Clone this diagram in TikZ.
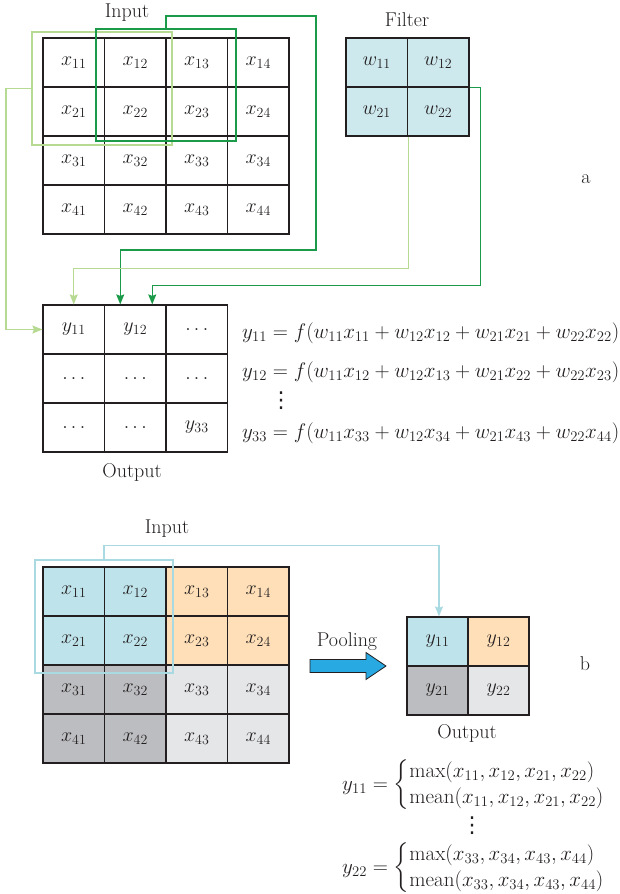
\RequirePackage{fix-cm}
\documentclass[tikz,border=0pt]{standalone}
\usepackage{amsmath}
\usepackage{fontspec}
\usepackage{tikz}
\usetikzlibrary{arrows.meta}

\newfontfamily\dotsfont{DejaVu Sans}

\definecolor{gridline}{HTML}{231F20}
\definecolor{lgreen}{HTML}{B7DA93}
\definecolor{dgreen}{HTML}{1B9B4A}
\definecolor{filterfill}{HTML}{CDE9EE}
\definecolor{pool0}{HTML}{BFE3EA}
\definecolor{pool1}{HTML}{FEDFB8}
\definecolor{pool2}{HTML}{BCBDC0}
\definecolor{pool3}{HTML}{E5E6E8}
\definecolor{winblue}{HTML}{A9D9E1}
\definecolor{poolarrow}{HTML}{29A9E1}

\newcommand{\tallvdots}{{\dotsfont\fontsize{22}{24}\selectfont ⋮}}
\newcommand{\pooleq}[2]{{\renewcommand{\arraystretch}{1.04}%
$#1=\left\{\begin{array}{@{}l@{}}\max(#2)\\ \operatorname{mean}(#2)\end{array}\right.$}}

\tikzset{
  every node/.style={font=\fontsize{20}{24}\selectfont, text=gridline},
  cell/.style={draw=gridline, line width=1.2pt, minimum width=61.5pt, minimum height=49pt, inner sep=0pt},
  lbl/.style={anchor=base, inner sep=0pt},
  eq/.style={anchor=west, inner sep=0pt, font=\fontsize{21}{25}\selectfont},
  tip/.style={-{Stealth[length=10pt,width=8pt,inset=1.5pt]}},
  lgline/.style={draw=lgreen, line width=1.2pt},
  dgline/.style={draw=dgreen, line width=1.2pt},
}

\begin{document}
\begin{tikzpicture}[x=1pt,y=-1pt]
\useasboundingbox (0,0) rectangle (620,894);

\foreach \r in {1,...,4}
  \foreach \c in {1,...,4}
    \node[cell] (in\r\c) at ({43+61.5*(\c-0.5)},{38+49*(\r-0.5)}) {$x_{\r\c}$};

\foreach \r in {1,2}
  \foreach \c in {1,2}
    \node[cell, fill=filterfill] (w\r\c) at ({346+61.5*(\c-0.5)},{38+49*(\r-0.5)}) {$w_{\r\c}$};

\node[cell] (y11) at (73.75,329.5) {$y_{11}$};
\node[cell] (y12) at (135.25,329.5) {$y_{12}$};
\node[cell] (y13) at (196.75,329.5) {$\ldots$};
\node[cell] (y21) at (73.75,378.5) {$\ldots$};
\node[cell] (y22) at (135.25,378.5) {$\ldots$};
\node[cell] (y23) at (196.75,378.5) {$\ldots$};
\node[cell] (y31) at (73.75,427.5) {$\ldots$};
\node[cell] (y32) at (135.25,427.5) {$\ldots$};
\node[cell] (y33) at (196.75,427.5) {$y_{33}$};

\node[draw=lgreen, line width=2.2pt, minimum width=140pt, minimum height=113pt] (winA) at (102,88.5) {};
\node[draw=dgreen, line width=2.2pt, minimum width=140pt, minimum height=112pt] (winB) at (166,85) {};

\draw[lgline, tip] (winA.west) -- ++(-25,0) |- (y11.west);
\draw[dgline, tip] (winB.north) -- ++(0,-12) -- ++(150,0) -- ++(0,234) -| ([xshift=-15pt]y12.north);
\draw[lgline, tip] (w21.south east) -- ++(0,132) -| (y11.north);
\draw[dgline, tip] (w12.south east) -- ++(11,0) -- ++(0,198) -| ([xshift=17pt]y12.north);

\node[lbl] (inA) at (127,17) {Input};
\node[lbl] (flt) at (407,27) {Filter};
\node[lbl] (outA) at (132,477) {Output};
\node[lbl] (la) at (586,183) {a};

\node[eq] (eq1) at (242,333) {$y_{11}=f(w_{11}x_{11}+w_{12}x_{12}+w_{21}x_{21}+w_{22}x_{22})$};
\node[eq] (eq2) at (242,372) {$y_{12}=f(w_{11}x_{12}+w_{12}x_{13}+w_{21}x_{22}+w_{22}x_{23})$};
\node[inner sep=0pt] (eqdots) at (281,401) {\tallvdots};
\node[eq] (eq3) at (242,433) {$y_{33}=f(w_{11}x_{33}+w_{12}x_{34}+w_{21}x_{43}+w_{22}x_{44})$};

\foreach \r in {1,...,4}
  \foreach \c in {1,...,4} {
    \pgfmathsetmacro{\q}{int((\r>2)*2+(\c>2))}
    \node[cell, fill=pool\q] (b\r\c) at ({43+61.5*(\c-0.5)},{567+49*(\r-0.5)}) {$x_{\r\c}$};
  }

\foreach \r in {1,2}
  \foreach \c in {1,2} {
    \pgfmathsetmacro{\q}{int((\r-1)*2+(\c-1))}
    \node[cell, fill=pool\q, minimum width=61pt] (p\r\c) at ({407+61*(\c-0.5)},{617+49*(\r-0.5)}) {$y_{\r\c}$};
  }

\node[draw=winblue, line width=1.3pt, minimum width=138pt, minimum height=113pt] (winC) at (104,616.5) {};
\draw[draw=winblue, line width=1.2pt, tip] (winC.north) -- ++(0,-14) -| ([xshift=1.5pt]p11.north);

\draw[draw=gridline, line width=0.8pt, fill=poolarrow] (310,659.5) -- (366,659.5) -- (366,652.5)
  -- (386,666) -- (366,679.5) -- (366,672.5) -- (310,672.5) -- cycle;

\node[lbl] (inB) at (167,533) {Input};
\node[lbl] (pool) at (347,646) {Pooling};
\node[lbl] (outB) at (467,738) {Output};
\node[lbl] (lb) at (585,670) {b};

\node[eq] (eq4) at (342,785) {\pooleq{y_{11}}{x_{11},x_{12},x_{21},x_{22}}};
\node[inner sep=0pt] (pooldots) at (472,826) {\tallvdots};
\node[eq] (eq5) at (342,868) {\pooleq{y_{22}}{x_{33},x_{34},x_{43},x_{44}}};
\end{tikzpicture}
\end{document}
